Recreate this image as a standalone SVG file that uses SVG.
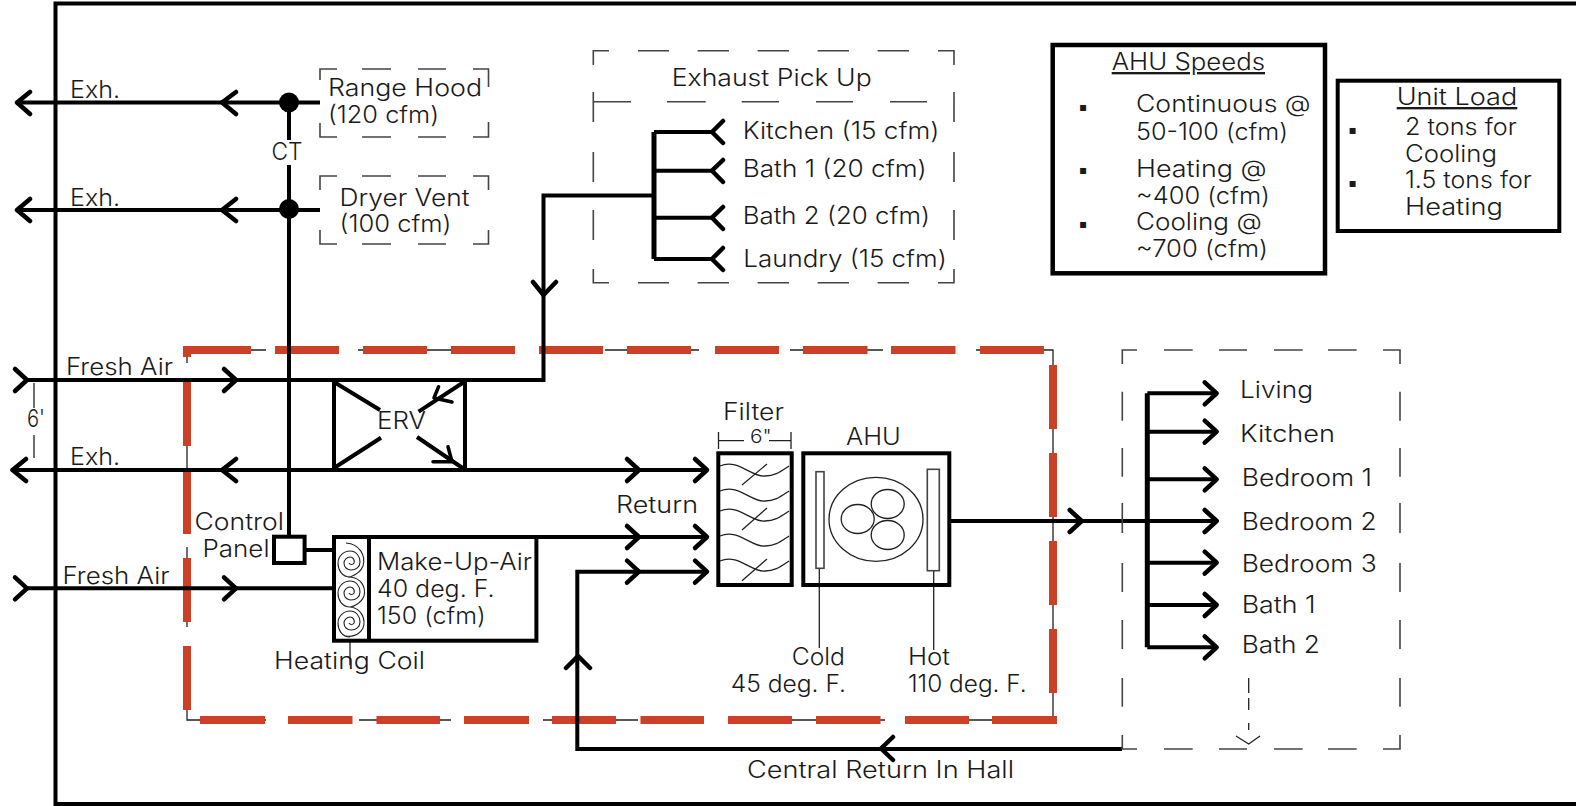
<svg xmlns="http://www.w3.org/2000/svg" width="1576" height="806" viewBox="0 0 1576 806">
<style>
text{font-family:"Inter","Open Sans","Liberation Sans",sans-serif;font-size:23.5px;font-weight:300;fill:#1a1a1a}
.bu{font-family:"DejaVu Sans",sans-serif;font-size:12px;font-weight:400}
.b{fill:none;stroke:#000;stroke-width:4;stroke-linejoin:miter}
.h{fill:none;stroke:#000;stroke-width:5}
.c{fill:none;stroke:#000;stroke-width:4.5;stroke-linecap:round;stroke-linejoin:round}
.t{fill:none;stroke:#222;stroke-width:1.3}
.s{fill:none;stroke:#222;stroke-width:1.1}
.d{fill:none;stroke:#444;stroke-width:1.6}
.r{fill:none;stroke:#cc4027;stroke-width:8}
</style>
<defs>
<path id="chev" class="c" d="M-12,-11L0,0L-12,11"/>
<path id="spiral" class="s" d="M350,577C342,577 338,570 338,563C338,556 344,551 350,551C356,551 360,556 360,562C360,567 356,570 351,570C347,570 344,567 344,563C344,560 347,557 350,557C353,557 355,560 354,563C353,565 350,565 349,563"/>
<path id="wave" class="t" d="M720,466C738,458 752,478 765,476C775,476 780,472 789,466"/>
</defs>
<rect width="1576" height="806" fill="#fff"/>
<path id="frame" class="b" d="M1576,3.500H55.500V804H1576"/>

<g id="boundary">
<path class="t" d="M187,355V363M251,350H266M358,350H451M605,350H699M790,350H883M976,350H1053V365M187,445V470M187,547V558M187,622V627M187,709V720H266M359,720H451M543,720H638M792,720H885M969,720H1053V705M1053,429V453M1053,516V541M1053,605V629M1053,692V705"/>
<path class="r" d="M187.500,350H251M275,350H339M363,350H427M451,350H515M539,350H603M627,350H691M715,350H779M803,350H867.500M891,350H955.500M980,350H1044M187,346V357M187,382V446M187,470V534M187,558V622M187,646V710M200,720H265M288,720H352.500M376.500,720H440M464,720H529M552,720H616M640.500,720H704M728,720H792M816,720H880.500M905,720H969M992,720H1057M1053,365V429M1053,453V517M1053,541V605M1053,629V693"/>
</g>

<g id="connectors">
<path class="b" d="M17,102.500H320M17,210H320M289,102.500V140M289,165V537M27,380H543.500V195.500H654M12.500,470H707M27,588.300H334M304.500,550H334M949,521H1216M1122,749H577.300V571.700H707M536,537H707"/>
<path class="h" d="M654,132V259M1147.300,393.300V647.300"/>
<path class="b" d="M654,132H711M654,170.700H711M654,217.700H711M654,259H711M1147.300,393.300H1216M1147.300,431.700H1216M1147.300,479.300H1216M1147.300,562.700H1216M1147.300,605H1216M1147.300,647.300H1216"/>
<circle cx="289" cy="102.500" r="10"/>
<circle cx="289" cy="209" r="10"/>
<path class="c" d="M30,92L17,102.500L30,114M236,92L222,102.500L236,114M30,199L17,210L30,221M236,199L222,210L236,221M26,459L12.500,470L26,481M236,459L222,470L236,481"/>
<path class="c" d="M723,121L712,132L723,143M723,160L712,170.700L723,182M723,207L712,217.700L723,229M723,248L712,259L723,270M533,282L543.500,295L556,282M893,737L881,748.500L893,760M566,668L578,656L590,668"/>
<use href="#chev" x="27" y="380"/><use href="#chev" x="236" y="380"/>
<use href="#chev" x="27" y="588.300"/><use href="#chev" x="236" y="588.300"/>
<use href="#chev" x="639" y="470"/><use href="#chev" x="707" y="470"/>
<use href="#chev" x="639" y="537"/><use href="#chev" x="707" y="537"/>
<use href="#chev" x="639" y="571.700"/><use href="#chev" x="707" y="571.700"/>
<use href="#chev" x="1081.700" y="521"/>
<use href="#chev" x="1216.700" y="393.300"/><use href="#chev" x="1216.700" y="431.700"/><use href="#chev" x="1216.700" y="479.300"/><use href="#chev" x="1216.700" y="521"/><use href="#chev" x="1216.700" y="562.700"/><use href="#chev" x="1216.700" y="605"/><use href="#chev" x="1216.700" y="647.300"/>
<path class="t" d="M34,383V408M34,435V458M350,641V665M819.300,568V648M933.700,571V650"/>
<path class="t" d="M1248.700,678V693M1248.700,698V710M1248.700,723V730M1236,736L1248.700,744L1260,736"/>
</g>

<g id="range-hood">
<path class="d" d="M320,80V69H337M362,69H391M418,69H446M473,69H488.500V87M320,123V137H337M362,137H391M418,137H446M473,137H488.500V122"/>
<text x="328" y="96" textLength="154" lengthAdjust="spacingAndGlyphs">Range Hood</text>
<text x="328" y="122.700" textLength="111" lengthAdjust="spacingAndGlyphs">(120 cfm)</text>
</g>
<g id="dryer-vent">
<path class="d" d="M320,190V176H337M362,176H391M418,176H446M473,176H488.500V190M320,230V244H337M362,244H391M418,244H446M473,244H488.500V230"/>
<text x="339.500" y="205.700" textLength="130" lengthAdjust="spacingAndGlyphs">Dryer Vent</text>
<text x="339.500" y="231.700" textLength="112" lengthAdjust="spacingAndGlyphs">(100 cfm)</text>
</g>
<g id="ct"><text x="271.500" y="160" textLength="31" lengthAdjust="spacingAndGlyphs">CT</text></g>

<g id="labels">
<text x="70" y="97.700" textLength="50" lengthAdjust="spacingAndGlyphs">Exh.</text>
<text x="70" y="205.700" textLength="50" lengthAdjust="spacingAndGlyphs">Exh.</text>
<text x="70" y="465" textLength="50" lengthAdjust="spacingAndGlyphs">Exh.</text>
<text x="66" y="375" textLength="107" lengthAdjust="spacingAndGlyphs">Fresh Air</text>
<text x="62.500" y="584" textLength="107" lengthAdjust="spacingAndGlyphs">Fresh Air</text>
<text x="27" y="427" textLength="18" lengthAdjust="spacingAndGlyphs">6'</text>
<text x="616" y="512.700" textLength="82" lengthAdjust="spacingAndGlyphs">Return</text>
<text x="747" y="778" textLength="267" lengthAdjust="spacingAndGlyphs">Central Return In Hall</text>
</g>

<g id="exhaust-pick-up">
<path class="d" d="M593.300,65V50.700H609M638,50.700H669M697.700,50.700H729M757.700,50.700H789M817.700,50.700H849M877.700,50.700H909M938,50.700H954V65M593.300,92V122M593.300,152V182M593.300,210V240M593.300,269V282.700H609M638,282.700H669M697.700,282.700H729M757.700,282.700H789M817.700,282.700H849M877.700,282.700H909M938,282.700H954V269M954,92V122M954,152V182M954,210V240M593.300,101.700H631M667,101.700H705.700M741.700,101.700H779M816,101.700H853M890,101.700H927"/>
<text x="671.700" y="85.700" textLength="200" lengthAdjust="spacingAndGlyphs">Exhaust Pick Up</text>
<text x="742.700" y="139" textLength="196.600" lengthAdjust="spacingAndGlyphs">Kitchen (15 cfm)</text>
<text x="742.700" y="177.300" textLength="184" lengthAdjust="spacingAndGlyphs">Bath 1 (20 cfm)</text>
<text x="742.700" y="224" textLength="187.300" lengthAdjust="spacingAndGlyphs">Bath 2 (20 cfm)</text>
<text x="743.300" y="267" textLength="203.400" lengthAdjust="spacingAndGlyphs">Laundry (15 cfm)</text>
</g>

<g id="ahu-speeds">
<rect class="b" x="1052.700" y="45" width="272.300" height="228.300" style="stroke-width:4.500"/>
<text x="1111.700" y="70" textLength="153.300" lengthAdjust="spacingAndGlyphs" text-decoration="underline">AHU Speeds</text>
<text class="bu" x="1079" y="111">▪</text>
<text class="bu" x="1079" y="174">▪</text>
<text class="bu" x="1079" y="227.500">▪</text>
<text x="1136" y="112.300" textLength="174.700" lengthAdjust="spacingAndGlyphs">Continuous @</text>
<text x="1136" y="140" textLength="152" lengthAdjust="spacingAndGlyphs">50-100 (cfm)</text>
<text x="1136" y="176.700" textLength="130.700" lengthAdjust="spacingAndGlyphs">Heating @</text>
<text x="1136" y="204" textLength="134" lengthAdjust="spacingAndGlyphs">~400 (cfm)</text>
<text x="1136" y="230" textLength="125.700" lengthAdjust="spacingAndGlyphs">Cooling @</text>
<text x="1136" y="256.700" textLength="132" lengthAdjust="spacingAndGlyphs">~700 (cfm)</text>
</g>
<g id="unit-load">
<rect class="b" x="1337.700" y="80.700" width="221.600" height="150.300"/>
<text x="1396.700" y="105" textLength="120.600" lengthAdjust="spacingAndGlyphs" text-decoration="underline">Unit Load</text>
<text class="bu" x="1348.500" y="134">▪</text>
<text class="bu" x="1348.500" y="186.500">▪</text>
<text x="1405" y="135" textLength="111.700" lengthAdjust="spacingAndGlyphs">2 tons for</text>
<text x="1405" y="161.700" textLength="92" lengthAdjust="spacingAndGlyphs">Cooling</text>
<text x="1405" y="188.300" textLength="126.700" lengthAdjust="spacingAndGlyphs">1.5 tons for</text>
<text x="1405" y="215" textLength="98" lengthAdjust="spacingAndGlyphs">Heating</text>
</g>

<g id="erv">
<path class="b" d="M334,380V470M465,380V470M334,382L380,410M334,468L381,437.700M464,382L418.600,411.700M417,437L464,469"/>
<path class="c" style="stroke-width:3.500" d="M438.600,386.700L434,398L452,402M448,446.700L452,461.700L433,461.700"/>
<text x="377" y="429" textLength="49" lengthAdjust="spacingAndGlyphs">ERV</text>
</g>

<g id="control-panel">
<rect class="b" x="274" y="536.700" width="30.600" height="26.300"/>
<text x="194.600" y="530" textLength="89.400" lengthAdjust="spacingAndGlyphs">Control</text>
<text x="202.500" y="556.700" textLength="67" lengthAdjust="spacingAndGlyphs">Panel</text>
</g>

<g id="make-up-air">
<rect class="b" x="334" y="537" width="202.400" height="103.700"/>
<path class="b" d="M369,537V640.700"/>
<path class="s" d="M346,543C360,544 366,556 363,566C360,574 352,576 350,577C362,578 366,588 364,596C361,604 352,607 350,607C362,608 366,620 363,628C359,636 350,637 346,636"/>
<use href="#spiral"/><use href="#spiral" y="30"/><use href="#spiral" y="60"/>
<text x="377" y="570" textLength="155" lengthAdjust="spacingAndGlyphs">Make-Up-Air</text>
<text x="377" y="596.700" textLength="117.600" lengthAdjust="spacingAndGlyphs">40 deg. F.</text>
<text x="377" y="624" textLength="108.700" lengthAdjust="spacingAndGlyphs">150 (cfm)</text>
<text x="274" y="669" textLength="151" lengthAdjust="spacingAndGlyphs">Heating Coil</text>
</g>

<g id="filter">
<rect class="b" x="718.300" y="453.300" width="73.400" height="131.700"/>
<use href="#wave"/><use href="#wave" y="25"/><use href="#wave" y="45"/><use href="#wave" y="70"/><use href="#wave" y="95"/>
<path class="t" d="M742,485L767,464M742,530L767,508M742,580.700L767,559M718.500,432V449M791,432V449M718.500,440.700H744M769,440.700H791"/>
<text x="723" y="420" textLength="61" lengthAdjust="spacingAndGlyphs">Filter</text>
<text x="750" y="443" textLength="21.700" lengthAdjust="spacingAndGlyphs" style="font-size:18px">6"</text>
</g>

<g id="ahu">
<rect class="b" x="803.300" y="453.300" width="146" height="131.700"/>
<rect class="d" x="816" y="471.700" width="8" height="96.600"/>
<rect class="d" x="927.300" y="469.300" width="12" height="101.400"/>
<ellipse class="t" cx="876" cy="519.300" rx="47" ry="42"/>
<ellipse class="t" cx="857.700" cy="519" rx="16.500" ry="14.500"/>
<ellipse class="t" cx="887.700" cy="504" rx="16.500" ry="14.500"/>
<ellipse class="t" cx="887.700" cy="535" rx="16.500" ry="14.500"/>
<text x="846" y="445" textLength="54.700" lengthAdjust="spacingAndGlyphs">AHU</text>
<text x="791.700" y="665" textLength="53.300" lengthAdjust="spacingAndGlyphs">Cold</text>
<text x="730.700" y="691.700" textLength="115.300" lengthAdjust="spacingAndGlyphs">45 deg. F.</text>
<text x="908" y="665" textLength="42" lengthAdjust="spacingAndGlyphs">Hot</text>
<text x="908" y="691.700" textLength="118.700" lengthAdjust="spacingAndGlyphs">110 deg. F.</text>
</g>

<g id="supply-rooms">
<path class="d" d="M1122.300,364V350H1137M1164,350H1192.700M1219,350H1247M1274,350H1302.700M1328,350H1356.700M1383,350H1400V364M1122.300,391.700V420.700M1122.300,448V476.700M1122.300,503V533M1122.300,563V592M1122.300,620V649M1122.300,678V706.700M1122.300,735V749H1137M1164,749H1192.700M1219,749H1247M1274,749H1302.700M1328,749H1356.700M1383,749H1400V735M1400,391.700V420.700M1400,448V476.700M1400,503V533M1400,563V592M1400,620V649M1400,678V706.700"/>
<text x="1240" y="397.700" textLength="73" lengthAdjust="spacingAndGlyphs">Living</text>
<text x="1240" y="441.700" textLength="95" lengthAdjust="spacingAndGlyphs">Kitchen</text>
<text x="1241.700" y="486" textLength="130.300" lengthAdjust="spacingAndGlyphs">Bedroom 1</text>
<text x="1241.700" y="530" textLength="135" lengthAdjust="spacingAndGlyphs">Bedroom 2</text>
<text x="1241.700" y="571.700" textLength="135" lengthAdjust="spacingAndGlyphs">Bedroom 3</text>
<text x="1241.700" y="612.700" textLength="74" lengthAdjust="spacingAndGlyphs">Bath 1</text>
<text x="1241.700" y="652.700" textLength="78.300" lengthAdjust="spacingAndGlyphs">Bath 2</text>
</g>
</svg>
